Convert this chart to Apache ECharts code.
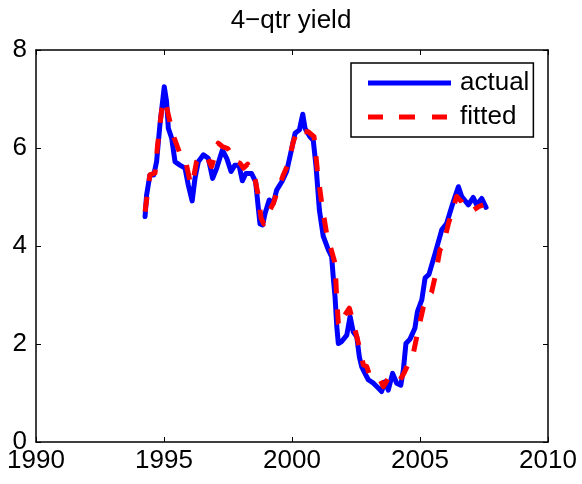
<!DOCTYPE html>
<html>
<head>
<meta charset="utf-8">
<script src="https://cdn.jsdelivr.net/npm/echarts@6/dist/echarts.min.js"></script>
<style>html,body{margin:0;padding:0;background:#fff}#c{width:582px;height:484px}</style>
</head>
<body>
<div id="c"></div>
<script>
var titleText = '4\u2212qtr yield';
var seriesNames = ['actual', 'fitted'];
var xTicks = [1990, 1995, 2000, 2005, 2010];
var yTicks = [0, 2, 4, 6, 8];

var actualYears = [1994.26,1994.32,1994.45,1994.6,1994.71,1994.84,1995.01,1995.1,1995.17,1995.3,1995.43,1995.62,1995.82,1995.95,1996.1,1996.21,1996.34,1996.54,1996.73,1996.9,1997.06,1997.28,1997.45,1997.62,1997.77,1997.93,1998.06,1998.2,1998.42,1998.58,1998.66,1998.75,1998.85,1998.95,1999.11,1999.27,1999.4,1999.6,1999.79,1999.99,2000.12,2000.29,2000.42,2000.51,2000.7,2000.83,2000.94,2001.07,2001.22,2001.42,2001.55,2001.61,2001.68,2001.75,2001.81,2001.94,2002.14,2002.27,2002.39,2002.53,2002.63,2002.72,2002.85,2002.98,2003.18,2003.37,2003.5,2003.63,2003.76,2003.93,2004.09,2004.25,2004.35,2004.45,2004.61,2004.8,2004.9,2005.07,2005.2,2005.35,2005.59,2005.85,2006.04,2006.24,2006.37,2006.5,2006.63,2006.89,2007.08,2007.21,2007.41,2007.58];
var actualValues = [4.6,5.04,5.45,5.45,5.72,6.47,7.25,6.95,6.4,6.2,5.72,5.65,5.59,5.24,4.92,5.38,5.72,5.86,5.79,5.38,5.59,5.96,5.79,5.52,5.65,5.65,5.33,5.48,5.48,5.31,4.9,4.45,4.43,4.67,4.94,4.87,5.14,5.31,5.52,5.99,6.3,6.37,6.69,6.4,6.23,6.16,5.62,4.73,4.2,3.92,3.78,3.37,2.97,2.35,2.01,2.05,2.18,2.56,2.25,2.15,1.74,1.54,1.4,1.27,1.2,1.1,1.03,1.23,1.06,1.4,1.2,1.16,1.47,2.01,2.1,2.32,2.66,2.9,3.35,3.42,3.85,4.33,4.46,4.8,5.01,5.21,5.01,4.84,4.99,4.84,4.97,4.79];

var fittedYears = [1994.26,1994.45,1994.65,1994.75,1994.91,1995.05,1995.17,1995.3,1995.4,1995.62,1995.82,1996.02,1996.1,1996.27,1996.47,1996.67,1996.86,1997.12,1997.28,1997.49,1997.64,1997.77,1997.97,1998.1,1998.27,1998.4,1998.55,1998.68,1998.79,1998.9,1999.01,1999.27,1999.4,1999.66,1999.86,2000.05,2000.25,2000.44,2000.64,2000.86,2000.99,2001.16,2001.35,2001.61,2001.68,2001.75,2001.81,2001.88,2001.98,2002.24,2002.33,2002.53,2002.63,2002.79,2002.92,2003.05,2003.24,2003.44,2003.57,2003.76,2004.02,2004.22,2004.37,2004.67,2004.74,2004.93,2005.13,2005.3,2005.45,2005.59,2005.78,2005.91,2006.11,2006.24,2006.43,2006.63,2006.76,2007.08,2007.28,2007.47];
var fittedValues = [4.7,5.45,5.49,6.06,6.78,6.98,6.67,6.4,6.2,5.89,5.79,5.31,5.24,5.72,5.86,5.82,5.62,6.1,6.03,5.99,5.86,5.72,5.69,5.59,5.67,5.45,5.38,5.04,4.57,4.45,4.6,4.87,5.07,5.45,5.69,6.13,6.4,6.33,6.33,6.23,5.55,4.87,4.26,3.78,3.65,2.9,2.42,2.35,2.52,2.73,2.56,2.15,1.94,1.57,1.54,1.33,1.27,1.27,1.13,1.3,1.2,1.27,1.4,1.74,1.81,2.29,2.75,2.95,3.05,3.37,3.92,4.02,4.46,4.67,5.01,4.9,4.77,4.73,4.8,4.84];

function pairs(xs, ys) { return xs.map(function (x, i) { return [x, ys[i]]; }); }

var FONT = '"Liberation Sans", Arial, Helvetica, sans-serif';
var chart = echarts.init(document.getElementById('c'), null, {renderer: 'canvas'});

var xMin = xTicks[0], xMax = xTicks[xTicks.length - 1], xStep = xTicks[1] - xTicks[0];
var yMin = yTicks[0], yMax = yTicks[yTicks.length - 1], yStep = yTicks[1] - yTicks[0];

function xAx(pos, showLabel) {
  return {
    type: 'value', position: pos, min: xMin, max: xMax, interval: xStep,
    axisLine: {show: true, onZero: false, lineStyle: {color: '#000', width: 1.5}},
    axisTick: {show: true, inside: true, length: 5, lineStyle: {color: '#000', width: 1}},
    axisLabel: {show: showLabel, color: '#000', fontSize: 26, fontFamily: FONT, margin: 6,
      formatter: function (v) { return String(v); }},
    splitLine: {show: false}
  };
}
function yAx(pos, showLabel) {
  return {
    type: 'value', position: pos, min: yMin, max: yMax, interval: yStep,
    axisLine: {show: true, onZero: false, lineStyle: {color: '#000', width: 1.5}},
    axisTick: {show: true, inside: true, length: 5, lineStyle: {color: '#000', width: 1}},
    axisLabel: {show: showLabel, color: '#000', fontSize: 26, fontFamily: FONT, margin: 9,
      formatter: function (v) { return String(v); }},
    splitLine: {show: false}
  };
}

var solidIcon = 'path://M0,0H83V5H0Z';
var dashIcon = 'path://M0,0H15V5H0Z M31,0H47V5H31Z M64,0H79V5H64Z M83,2.5L83,2.5L83,2.5Z';

chart.setOption({
  backgroundColor: '#fff',
  animation: false,
  title: {
    text: titleText, left: 'center', top: 3,
    textStyle: {color: '#000', fontSize: 26, fontWeight: 'normal', fontFamily: FONT}
  },
  legend: {
    show: true,
    orient: 'vertical', left: 351, top: 63,
    padding: [7, 4, 7, 17], itemGap: 8, itemWidth: 83, itemHeight: 5,
    backgroundColor: '#fff', borderColor: '#000', borderWidth: 1.5,
    textStyle: {color: '#000', fontSize: 26, fontFamily: FONT, padding: [0, 0, 0, 4]},
    data: [
      {name: seriesNames[0], icon: solidIcon},
      {name: seriesNames[1], icon: dashIcon}
    ]
  },
  grid: {left: 36, right: 34, top: 50, bottom: 42, containLabel: false},
  xAxis: [xAx('bottom', true), xAx('top', false)],
  yAxis: [yAx('left', true), yAx('right', false)],
  series: [
    {
      name: seriesNames[0], type: 'line', xAxisIndex: 0, yAxisIndex: 0,
      data: pairs(actualYears, actualValues), showSymbol: false, symbol: 'none',
      color: '#0000ff',
      lineStyle: {color: '#0000ff', width: 5, cap: 'round', join: 'round'}
    },
    {
      name: seriesNames[1], type: 'line', xAxisIndex: 0, yAxisIndex: 0,
      data: pairs(fittedYears, fittedValues), showSymbol: false, symbol: 'none',
      color: '#ff0000',
      lineStyle: {color: '#ff0000', width: 5, type: [15, 16], cap: 'butt', join: 'round'}
    }
  ]
});
</script>
</body>
</html>
